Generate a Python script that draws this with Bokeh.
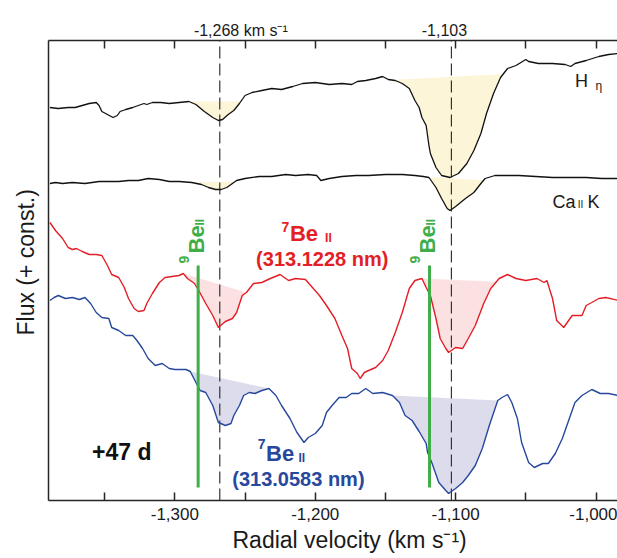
import numpy as np
from bokeh.plotting import figure
from bokeh.models import Label, LinearAxis, FixedTicker, Range1d, Title
from bokeh.embed import file_html
from bokeh.resources import INLINE

# ---------------- data (radial velocity km/s, flux + const.) ----------------
heta_v = [-1389,-1383,-1376,-1371,-1366,-1361,-1356,-1354,-1352,-1348,-1344,-1341,-1339,-1335,-1330,-1326,-1322,-1320,-1316,-1310,
          -1304,-1297,-1290,-1285,-1279,-1273,-1269,-1266,-1262,-1258,-1254,-1250,-1245,-1238,-1231,-1224,-1216,-1209,-1200,-1190,
          -1181,-1174,-1170,-1164,-1157,-1152,-1148,-1143,-1138,-1133,-1129,-1126,-1124,-1121,-1119,-1118,-1114,-1110,-1104,-1098,
          -1092,-1087,-1082,-1078,-1073,-1068,-1063,-1057,-1050,-1048,-1041,-1031,-1022,-1018,-1015,-1007,-998,-991,-984]
heta_f = [3.93,3.92,3.93,3.93,3.95,3.97,3.98,3.95,3.89,3.86,3.83,3.85,3.89,3.91,3.93,3.95,3.97,3.96,3.98,3.98,
          3.97,3.98,3.99,3.96,3.89,3.83,3.80,3.81,3.86,3.90,3.97,4.05,4.08,4.10,4.12,4.11,4.14,4.17,4.18,4.16,
          4.17,4.16,4.19,4.20,4.22,4.24,4.21,4.20,4.17,4.12,4.00,3.93,3.83,3.75,3.55,3.47,3.33,3.25,3.23,3.27,
          3.37,3.50,3.67,3.87,4.07,4.23,4.32,4.35,4.41,4.39,4.37,4.37,4.36,4.34,4.37,4.40,4.44,4.46,4.47]

cak_v = [-1389,-1385,-1380,-1373,-1364,-1354,-1347,-1340,-1333,-1326,-1319,-1311,-1304,-1297,-1288,-1281,-1276,-1271,-1267,-1263,
         -1259,-1256,-1250,-1240,-1231,-1221,-1214,-1205,-1199,-1196,-1190,-1181,-1171,-1162,-1150,-1138,-1129,-1123,-1119,-1114,
         -1110,-1106,-1104,-1100,-1093,-1087,-1082,-1079,-1072,-1062,-1055,-1043,-1031,-1019,-1007,-996,-984]
cak_f = [3.17,3.18,3.17,3.18,3.17,3.19,3.19,3.19,3.20,3.20,3.22,3.21,3.19,3.19,3.18,3.16,3.13,3.11,3.11,3.13,
         3.17,3.20,3.22,3.24,3.24,3.26,3.25,3.26,3.25,3.20,3.22,3.24,3.25,3.25,3.26,3.26,3.25,3.24,3.23,3.13,
         3.02,2.92,2.90,2.94,3.02,3.08,3.17,3.22,3.25,3.25,3.25,3.24,3.23,3.23,3.23,3.22,3.22]

be_red_v = [-1389,-1385,-1380,-1376,-1373,-1370,-1366,-1361,-1356,-1352,-1348,-1345,-1340,-1336,-1333,-1329,-1326,-1322,-1320,-1316,
            -1311,-1307,-1302,-1297,-1294,-1291,-1286,-1283,-1278,-1273,-1269,-1264,-1259,-1256,-1252,-1249,-1244,-1238,-1232,-1225,
            -1219,-1214,-1207,-1202,-1197,-1192,-1186,-1181,-1177,-1174,-1170,-1168,-1165,-1162,-1157,-1152,-1148,-1143,-1138,-1133,
            -1129,-1124,-1121,-1118,-1114,-1111,-1107,-1105,-1100,-1095,-1091,-1086,-1080,-1075,-1069,-1063,-1057,-1050,-1042,-1037,
            -1035,-1031,-1028,-1023,-1017,-1010,-1007,-1003,-998,-993,-984]
be_red_f = [2.78,2.70,2.62,2.53,2.51,2.52,2.49,2.46,2.46,2.45,2.35,2.26,2.23,2.13,2.02,1.92,1.89,1.90,1.97,2.07,
            2.18,2.23,2.24,2.25,2.27,2.22,2.17,2.10,1.97,1.85,1.73,1.79,1.82,1.88,2.05,2.08,2.17,2.18,2.22,2.26,
            2.20,2.22,2.21,2.13,2.05,1.95,1.82,1.65,1.52,1.32,1.27,1.22,1.28,1.30,1.33,1.40,1.50,1.68,1.88,2.12,
            2.20,2.22,2.13,2.05,1.82,1.62,1.52,1.48,1.53,1.52,1.62,1.75,1.97,2.12,2.22,2.26,2.22,2.20,2.22,2.18,
            2.20,2.02,1.80,1.73,1.85,1.85,1.95,1.98,2.02,2.03,2.00]

be_blue_v = [-1389,-1386,-1383,-1378,-1373,-1368,-1364,-1360,-1356,-1352,-1347,-1345,-1340,-1335,-1330,-1327,-1323,-1319,-1314,-1309,
             -1304,-1300,-1292,-1289,-1285,-1282,-1278,-1273,-1269,-1264,-1260,-1258,-1254,-1251,-1247,-1243,-1238,-1233,-1228,-1224,
             -1218,-1213,-1208,-1205,-1200,-1195,-1192,-1188,-1183,-1178,-1174,-1169,-1164,-1159,-1152,-1145,-1140,-1136,-1131,-1126,
             -1121,-1120,-1117,-1112,-1107,-1105,-1100,-1095,-1091,-1086,-1081,-1076,-1070,-1067,-1063,-1060,-1056,-1053,-1048,-1044,
             -1038,-1034,-1029,-1024,-1019,-1015,-1010,-1003,-997,-991,-984]
be_blue_f = [2.00,2.03,2.05,2.02,2.03,2.01,2.03,1.97,1.88,1.83,1.82,1.73,1.70,1.65,1.65,1.60,1.52,1.42,1.35,1.37,
             1.32,1.31,1.31,1.29,1.18,1.10,1.08,0.95,0.78,0.75,0.77,0.85,0.95,1.05,1.08,1.07,1.10,1.12,1.05,0.95,
             0.82,0.68,0.58,0.63,0.67,0.75,0.88,0.95,1.03,1.03,1.07,1.07,1.12,1.07,1.08,1.05,0.98,0.85,0.80,0.69,
             0.57,0.48,0.38,0.18,0.10,0.07,0.12,0.18,0.25,0.35,0.52,0.75,1.00,1.03,1.06,0.98,0.82,0.58,0.38,0.33,
             0.37,0.37,0.47,0.62,0.82,0.98,1.05,1.11,1.07,1.07,1.05]

# shaded absorption ranges (km/s)
heta_shade = [(-1290, -1253), (-1146, -1066)]
cak_shade = [(-1288, -1257), (-1121, -1080)]
red_shade = [(-1294, -1249), (-1124, -1071)]
blue_shade = [(-1289, -1233), (-1145, -1070)]

# marked velocities
dashed_v = [-1268, -1103]
be9_v = [-1283.4, -1118.6]
be9_flux = (0.13, 2.35)

x_ticks = [-1350, -1300, -1250, -1200, -1150, -1100, -1050, -1000, -950]
x_tick_labels = {-1300: "-1,300", -1200: "-1,200", -1100: "-1,100", -1000: "-1,000"}
# top annotations of the two velocities (placed where their text sits)
top_label_at = [-1253, -1108]
top_label_text = ["-1,268 km s\u207b\u00b9", "-1,103"]

# ---------------- figure ----------------
FONT = "Liberation Sans"
RED = "#e41e26"
BLUE = "#27489c"
GREEN = "#3fae49"
INK = "#1a1a1a"
AX = "#262626"

p = figure(width=617, height=558, x_range=Range1d(-1390, -984.7), y_range=Range1d(0, 4.6),
           output_backend="svg", toolbar_location=None,
           min_border_left=48, min_border_right=0, min_border_top=40, min_border_bottom=58)
p.grid.visible = False
p.outline_line_color = None
p.background_fill_color = "white"
p.border_fill_color = "white"

overrides = {t: x_tick_labels.get(t, "") for t in x_ticks}
xa = p.xaxis[0]
xa.ticker = FixedTicker(ticks=x_ticks)
xa.major_label_overrides = overrides
xa.major_tick_in = 8
xa.major_tick_out = 0
xa.minor_tick_line_color = None
xa.axis_line_color = AX
xa.axis_line_width = 1.5
xa.major_tick_line_color = AX
xa.major_tick_line_width = 1.5
xa.major_label_text_font = FONT
xa.major_label_text_font_size = "17px"
xa.major_label_text_color = INK
xa.major_label_standoff = 7

top = LinearAxis(ticker=FixedTicker(ticks=x_ticks), major_label_text_color=None,
                 major_label_text_font_size="0px", major_label_standoff=0,
                 major_tick_in=8, major_tick_out=0,
                 minor_tick_line_color=None, axis_line_color=AX, axis_line_width=1.5,
                 major_tick_line_color=AX, major_tick_line_width=1.5)
p.add_layout(top, "above")

toplab = LinearAxis(ticker=FixedTicker(ticks=top_label_at),
                    major_label_overrides=dict(zip(top_label_at, top_label_text)),
                    axis_line_color=None, major_tick_line_color=None, minor_tick_line_color=None,
                    major_tick_in=0, major_tick_out=0, major_label_standoff=2,
                    major_label_text_font=FONT, major_label_text_font_size="16px",
                    major_label_text_color=INK)
p.add_layout(toplab, "above")

ya = p.yaxis[0]
ya.ticker = FixedTicker(ticks=[])
ya.major_tick_line_color = None
ya.minor_tick_line_color = None
ya.major_label_text_font_size = "0px"
ya.axis_line_color = AX
ya.axis_line_width = 1.5

p.add_layout(Title(text="Radial velocity (km s\u207b\u00b9)", align="left", offset=184,
                   text_font=FONT, text_font_size="23px", text_font_style="normal",
                   text_color=INK, standoff=5), "below")
p.add_layout(Title(text="Flux (+ const.)", align="left", offset=165, vertical_align="top",
                   text_font=FONT, text_font_size="23px", text_font_style="normal",
                   text_color=INK, standoff=16), "left")


def shade_polygon(v, f, v1, v2):
    v = np.asarray(v, float)
    f = np.asarray(f, float)
    inside = (v > v1) & (v < v2)
    xs = [v1] + list(v[inside]) + [v2]
    ys = [np.interp(v1, v, f)] + list(f[inside]) + [np.interp(v2, v, f)]
    return xs, ys


shade_sets = [(heta_v, heta_f, heta_shade, "#fdf5d8"),
              (cak_v, cak_f, cak_shade, "#fdf5d8"),
              (be_red_v, be_red_f, red_shade, "#fbe1e1"),
              (be_blue_v, be_blue_f, blue_shade, "#dcdcec")]
for v, f, ranges, col in shade_sets:
    xs_list, ys_list = [], []
    for v1, v2 in ranges:
        xs, ys = shade_polygon(v, f, v1, v2)
        xs_list.append(xs)
        ys_list.append(ys)
    p.patches(xs_list, ys_list, fill_color=col, line_color=None)

# dashed reference velocities
p.segment(x0=dashed_v, y0=[0] * len(dashed_v), x1=dashed_v, y1=[4.6] * len(dashed_v),
          line_color="#333333", line_width=1.2, line_dash="12 5")

# spectra
p.line(heta_v, heta_f, line_color="#111111", line_width=1.3)
p.line(cak_v, cak_f, line_color="#111111", line_width=1.3)
p.line(be_red_v, be_red_f, line_color=RED, line_width=1.4)
p.line(be_blue_v, be_blue_f, line_color=BLUE, line_width=1.4)

# 9Be II markers
p.segment(x0=be9_v, y0=[be9_flux[0]] * 2, x1=be9_v, y1=[be9_flux[1]] * 2,
          line_color=GREEN, line_width=3)


def lab(x, y, text, size, color=INK, bold=False, align="left", angle=0):
    p.add_layout(Label(x=x, y=y, text=text, text_font=FONT, text_font_size=f"{size}px",
                       text_color=color, text_font_style="bold" if bold else "normal",
                       text_align=align, text_baseline="middle", angle=angle, angle_units="deg"))


# line identifications
lab(-1015, 4.195, "H", 18)
lab(-1000.3, 4.15, "\u03b7", 12)
lab(-1031, 2.983, "Ca", 18)
lab(-1013, 2.956, "II", 10)
lab(-1006, 2.983, "K", 18)

# red 7Be II label
lab(-1224, 2.74, "7", 14, RED, True)
lab(-1218, 2.667, "Be", 22, RED, True)
lab(-1193, 2.627, "II", 12, RED, True)
lab(-1195, 2.417, "(313.1228 nm)", 20, RED, True, align="center")

# blue 7Be II label
lab(-1241, 0.57, "7", 14, BLUE, True)
lab(-1235, 0.475, "Be", 22, BLUE, True)
lab(-1212, 0.427, "II", 12, BLUE, True)
lab(-1212, 0.215, "(313.0583 nm)", 20, BLUE, True, align="center")

# green 9Be II labels (rotated)
for bx, nx, ix in [(-1284.5, -1293.4, -1281.9), (-1119.8, -1128.6, -1117.4)]:
    lab(nx, 2.37, "9", 14, GREEN, True, angle=90)
    lab(bx, 2.47, "Be", 22, GREEN, True, angle=90)
    lab(ix, 2.75, "II", 12, GREEN, True, angle=90)

lab(-1359, 0.49, "+47 d", 23, "#111111", True)

open("out.html", "w").write(file_html(p, INLINE))
